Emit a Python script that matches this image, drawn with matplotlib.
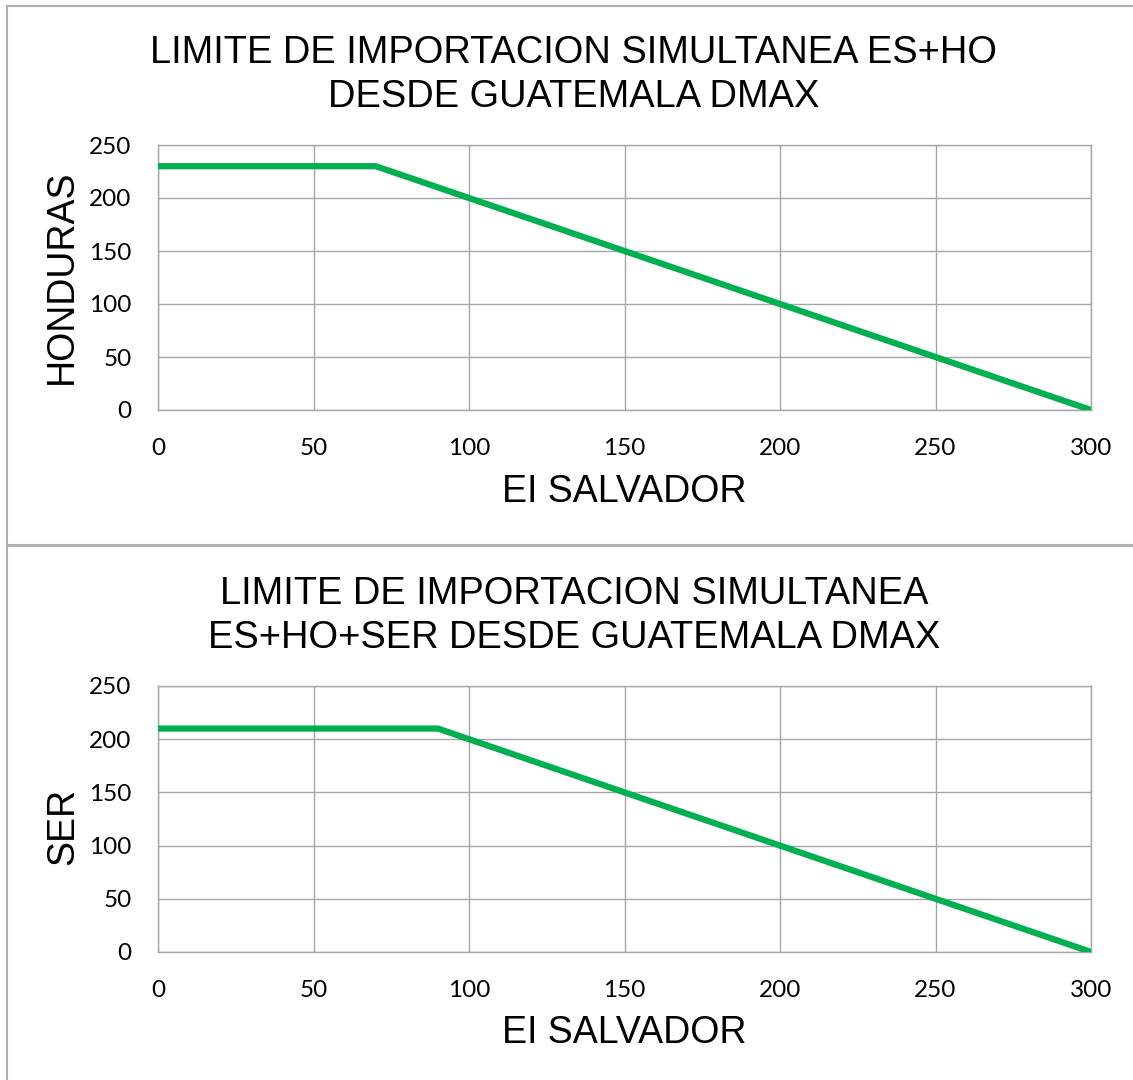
import matplotlib
matplotlib.use("Agg")
import matplotlib.pyplot as plt
from matplotlib.patches import Rectangle

# Data
x_top = [0, 70, 300]
y_top = [230, 230, 0]
x_bot = [0, 90, 300]
y_bot = [210, 210, 0]
x_ticks = [0, 50, 100, 150, 200, 250, 300]
y_ticks = [0, 50, 100, 150, 200, 250]
title_top = "LIMITE DE IMPORTACION SIMULTANEA ES+HO\nDESDE GUATEMALA DMAX"
title_bot = "LIMITE DE IMPORTACION SIMULTANEA\nES+HO+SER DESDE GUATEMALA DMAX"
xlabel = "EI SALVADOR"
ylabel_top = "HONDURAS"
ylabel_bot = "SER"

W, H = 1133, 1080
fig = plt.figure(figsize=(W / 100, H / 100), dpi=100)

GREEN = "#00b050"
GRID = "#a6a6a6"
TXT = "Liberation Sans"
TICKF = "Lato"

def px(x0, y0, x1, y1):
    return [x0 / W, 1 - y1 / H, (x1 - x0) / W, (y1 - y0) / H]

# panel borders
for (x0, y0, x1, y1) in [(7, 6, 1140, 545), (7, 546, 1140, 1090)]:
    fig.patches.append(Rectangle((x0 / W, 1 - y1 / H), (x1 - x0) / W, (y1 - y0) / H,
                                 transform=fig.transFigure, fill=False,
                                 edgecolor="#b0b0b0", linewidth=1.5))

def make(ax_rect, xs, ys, title, ylabel, title_y, xlabel_y, ylabel_x, ylabel_cy):
    ax = fig.add_axes(ax_rect)
    ax.plot(xs, ys, color=GREEN, linewidth=4.5, solid_capstyle="butt", zorder=3)
    ax.set_xlim(0, 300)
    ax.set_ylim(0, 250)
    ax.set_xticks(x_ticks)
    ax.set_yticks(y_ticks)
    ax.grid(True, color=GRID, linewidth=1)
    for s in ax.spines.values():
        s.set_color(GRID)
        s.set_linewidth(1)
    ax.tick_params(length=0, labelsize=17.5)
    ax.tick_params(axis="x", pad=20)
    ax.tick_params(axis="y", pad=19)
    for lab in ax.get_xticklabels() + ax.get_yticklabels():
        lab.set_fontfamily(TICKF)
    fig.text(574 / W, 1 - title_y / H, title, ha="center", va="center",
             fontsize=27.4, family=TXT, linespacing=1.3)
    fig.text(624 / W, 1 - xlabel_y / H, xlabel, ha="center", va="center",
             fontsize=27, family=TXT)
    fig.text(ylabel_x / W, 1 - ylabel_cy / H, ylabel, ha="center", va="center",
             rotation=90, fontsize=27, family=TXT)
    return ax

make(px(158, 145, 1091, 410), x_top, y_top, title_top, ylabel_top, 75, 492, 62, 277)
make(px(158, 686, 1091, 952), x_bot, y_bot, title_bot, ylabel_bot, 616, 1033, 63, 826)

fig.savefig("out.png", dpi=100)
